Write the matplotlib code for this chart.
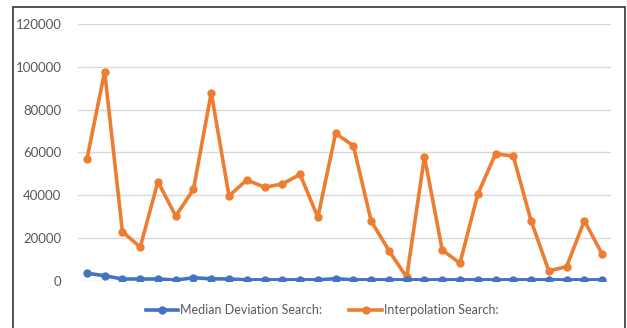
import matplotlib
matplotlib.use('Agg')
import matplotlib.pyplot as plt
from matplotlib.patches import Rectangle

# values (30 runs)
runs = list(range(1, 31))
median_deviation = [3400, 2250, 700, 700, 700, 200, 1300, 800, 700, 300,
                    300, 300, 300, 300, 850, 300, 300, 300, 300, 300,
                    300, 300, 300, 300, 300, 300, 300, 300, 300, 300]
interpolation = [56800, 97800, 22900, 15600, 46300, 30200, 42700, 88000, 39600, 47100,
                 43700, 45200, 49700, 29600, 68900, 63100, 27900, 14000, 1500, 58000,
                 14300, 8100, 40400, 59300, 58300, 28000, 4500, 6500, 28000, 12400]
y_ticks = [0, 20000, 40000, 60000, 80000, 100000, 120000]

plt.rcParams['font.family'] = ['Lato', 'DejaVu Sans']
fig = plt.figure(figsize=(6.27, 3.28), dpi=100)
ax = fig.add_axes([78/627, 1 - 280.5/328, (611 - 78)/627, (280.5 - 24.3)/328])

ax.plot(runs, median_deviation, color='#4472C4', lw=2.6, marker='o', ms=5,
        label='Median Deviation Search:', zorder=3)
ax.plot(runs, interpolation, color='#ED7D31', lw=2.6, marker='o', ms=5,
        label='Interpolation Search:', zorder=2)

ax.set_xlim(0.5, 30.5)
ax.set_ylim(0, 120000)
ax.set_yticks(y_ticks)
ax.set_yticklabels([str(v) for v in y_ticks])
ax.set_xticks([])
ax.tick_params(axis='y', length=0, pad=12, labelsize=9.5, labelcolor='#595959')
ax.grid(True, axis='y', color='#d9d9d9', lw=1)
ax.set_axisbelow(True)
for spine in ['top', 'right', 'left', 'bottom']: ax.spines[spine].set_visible(False)

fig.legend(loc='center', bbox_to_anchor=(322/627, 1 - 310/328), ncol=2, frameon=False,
           fontsize=9, handlelength=2.6, columnspacing=2.2, handletextpad=0.15,
           labelcolor='#595959')

fig.patches.append(Rectangle((13/627, -0.05), (625 - 13)/627, 1 - 7/328 + 0.05,
                             transform=fig.transFigure, fill=False, ec='#333333', lw=1.2))

fig.savefig('out.png', dpi=100)
